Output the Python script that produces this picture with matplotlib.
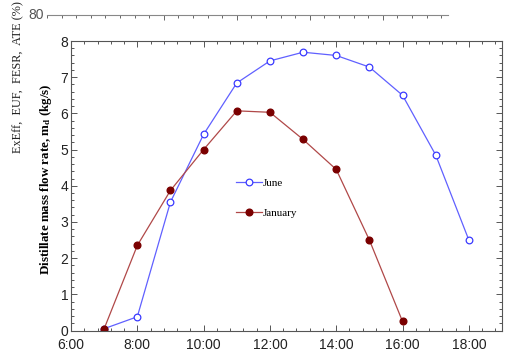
import matplotlib
matplotlib.use("Agg")
import matplotlib.pyplot as plt
from matplotlib.ticker import MultipleLocator, FixedLocator

# ---- data ----
june_hours = [7, 8, 9, 10, 11, 12, 13, 14, 15, 16, 17, 18]
june_vals = [0.05, 0.38, 3.55, 5.42, 6.84, 7.45, 7.69, 7.60, 7.28, 6.50, 4.85, 2.50]
jan_hours = [7, 8, 9, 10, 11, 12, 13, 14, 15, 16]
jan_vals = [0.05, 2.35, 3.87, 5.00, 6.07, 6.03, 5.28, 4.45, 2.50, 0.25]
x_tick_hours = [6, 8, 10, 12, 14, 16, 18]
x_tick_labels = ["6:00", "8:00", "10:00", "12:00", "14:00", "16:00", "18:00"]
y_ticks = [0, 1, 2, 3, 4, 5, 6, 7, 8]

plt.rcParams['mathtext.fontset'] = 'custom'
plt.rcParams['mathtext.rm'] = 'Liberation Serif'
plt.rcParams['mathtext.bf'] = 'Liberation Serif:bold'

W, H = 506, 352
fig = plt.figure(figsize=(W / 100, H / 100), dpi=100)

axc = '#555555'
ax = fig.add_axes([71 / W, (H - 330.5) / H, (502 - 71) / W, (330.5 - 41) / H])
ax.plot(june_hours, june_vals, color='#6060ff', lw=0.9, marker='o', ms=4.8,
        mfc='white', mec='#3a3aff', mew=0.9, label='June')
ax.plot(jan_hours, jan_vals, color='#b04848', lw=0.9, marker='o', ms=4.8,
        mfc='#7a0000', mec='#7a0000', label='January')

ax.set_xlim(6, 19)
ax.set_ylim(0, 8)
ax.xaxis.set_major_locator(FixedLocator(x_tick_hours))
ax.set_xticklabels(x_tick_labels)
ax.xaxis.set_minor_locator(MultipleLocator(0.4))
ax.yaxis.set_major_locator(FixedLocator(y_ticks))
ax.yaxis.set_minor_locator(MultipleLocator(0.2))
ax.tick_params(which='both', direction='in', top=True, right=True, color=axc, width=0.7)
ax.tick_params(which='major', length=4, labelsize=10)
ax.tick_params(which='minor', length=2.2)
ax.tick_params(axis='x', which='major', pad=5.5)
ax.tick_params(axis='y', which='major', pad=2)
for lab in ax.get_xticklabels() + ax.get_yticklabels():
    lab.set_family('Liberation Sans')
    lab.set_color('#222222')
for s in ax.spines.values():
    s.set_color(axc)
    s.set_linewidth(0.8)

ax.set_ylabel(r"Distillate mass flow rate, $\mathbf{m_d}$ (kg/s)",
              family='Liberation Serif', fontweight='bold', fontsize=9.4)
ax.yaxis.set_label_coords((54 - 71) / 431, (330.5 - 179) / 289.5)

leg = ax.legend(loc='upper left', bbox_to_anchor=((226 - 71) / 431, (330.5 - 168) / 289.5),
                frameon=False, handlelength=2.3, labelspacing=1.85, handletextpad=0.1,
                prop={'family': 'Liberation Serif', 'size': 8})

# leftover top axis from previous panel
ax2 = fig.add_axes([47 / W, (H - 15) / H - 0.02, (448 - 47) / W, 0.02])
ax2.set_xlim(0, 401 / 14.6)
ax2.set_ylim(0, 1)
for k in ['left', 'right', 'bottom']:
    ax2.spines[k].set_visible(False)
ax2.spines['top'].set_color('#888888')
ax2.spines['top'].set_linewidth(0.8)
ax2.patch.set_visible(False)
ax2.set_yticks([])
ax2.xaxis.set_major_locator(FixedLocator([8, 13, 18, 23]))
ax2.xaxis.set_minor_locator(MultipleLocator(1))
ax2.tick_params(which='both', bottom=False, top=True, labeltop=False, labelbottom=False,
                direction='in', color='#666666', width=0.7)
ax2.tick_params(which='major', length=3.5)
ax2.tick_params(which='minor', length=2.2)
fig.text(44 / W, (H - 15) / H, "80", ha='right', va='center',
         family='Liberation Sans', fontsize=10, color='#555555')

fig.text(18 / W, (H - 77) / H, "ExEff,  EUF,  FESR,  ATE (%)", rotation=90,
         ha='center', va='center', family='Liberation Serif', fontsize=8.8, color='#222222')

fig.savefig("out.png", dpi=100)
